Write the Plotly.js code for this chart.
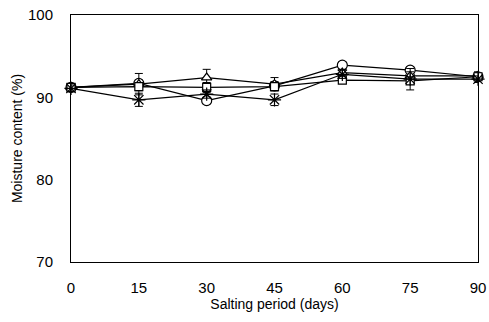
<!DOCTYPE html>
<html><head><meta charset="utf-8">
<script src="https://cdn.plot.ly/plotly-3.0.1.min.js"></script>
<style>body{margin:0;background:#fff}#c{width:489px;height:322px}</style>
</head><body><div id="c"></div>
<script>
const days = [0, 15, 30, 45, 60, 75, 90];
const circleVals = [91.2, 91.7, 89.6, 91.4, 93.9, 93.3, 92.5];
const triangleVals = [91.2, 91.6, 92.4, 91.6, 93.0, 92.6, 92.6];
const squareVals = [91.2, 91.3, 91.2, 91.3, 92.1, 92.0, 92.5];
const starVals = [91.1, 89.7, 90.4, 89.7, 92.8, 92.2, 92.2];
const circleErr = [0.4, 0.4, 0.4, 0.5, 0.4, 0.4, 0.4];
const triangleErr = [0.4, 1.3, 1.0, 0.8, 0.4, 0.5, 0.5];
const squareErr = [0.4, 0.5, 0.6, 0.5, 0.4, 0.4, 0.5];
const starErr = [0.4, 0.8, 0.5, 0.7, 0.5, 1.3, 0.4];

function tr(y, err, sym, size, fill) {
  return {
    x: days, y: y, type: 'scatter', mode: 'lines+markers', cliponaxis: false,
    line: {color: '#000', width: 1.2},
    marker: {symbol: sym, size: size, color: fill, line: {color: '#000', width: 1.2}},
    error_y: {type: 'data', array: err, visible: true, color: '#000', thickness: 1, width: 4}
  };
}
const data = [
  tr(circleVals, circleErr, 'circle', 10, '#fff'),
  tr(triangleVals, triangleErr, 'triangle-up', 9, '#fff'),
  tr(squareVals, squareErr, 'square', 8, '#fff'),
  tr(starVals, starErr, 'asterisk-open', 11, '#000')
];
const font = {family: 'Liberation Sans, Arial, sans-serif', size: 14, color: '#000'};
const layout = {
  width: 489, height: 322, showlegend: false,
  margin: {l: 71, r: 11, t: 15, b: 60},
  paper_bgcolor: '#fff', plot_bgcolor: '#fff', font: font,
  xaxis: {range: [0, 90], tickvals: days, ticktext: days.map(String), showgrid: false, zeroline: false,
    showline: true, mirror: true, linecolor: '#000', linewidth: 1,
    ticks: 'outside', ticklen: 12, tickcolor: 'rgba(0,0,0,0)', tickfont: {size: 15},
    title: {text: 'Salting period (days)', font: font, standoff: 2}},
  yaxis: {range: [70, 100], tickvals: [70, 80, 90, 100], showgrid: false, zeroline: false,
    showline: true, mirror: true, linecolor: '#000', linewidth: 1,
    ticks: 'outside', ticklen: 14, tickcolor: 'rgba(0,0,0,0)', tickfont: {size: 15},
    title: {text: 'Moisture content (%)', font: font, standoff: 2}}
};
Plotly.newPlot('c', data, layout, {staticPlot: true});
</script></body></html>
